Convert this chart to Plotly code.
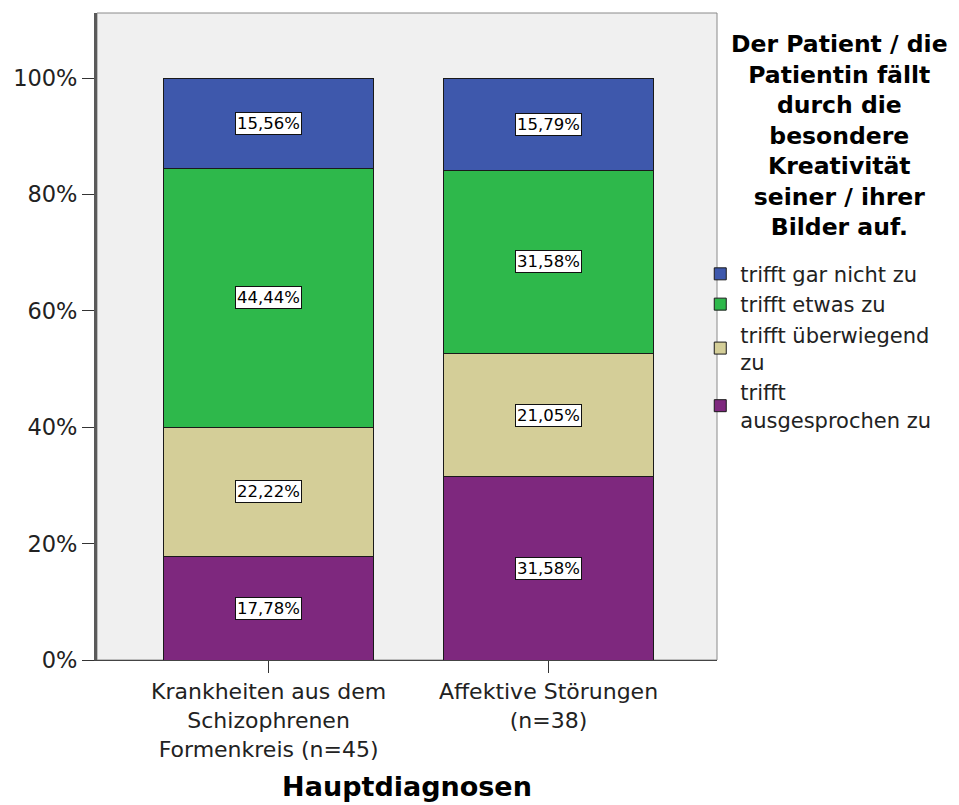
import plotly.graph_objects as go

categories = ["Krankheiten aus dem<br>Schizophrenen<br>Formenkreis (n=45)",
              "Affektive Störungen<br>(n=38)"]
series_names = ["trifft<br>ausgesprochen zu", "trifft überwiegend<br>zu",
                "trifft etwas zu", "trifft gar nicht zu"]
purple_vals = [17.78, 31.58]
tan_vals = [22.22, 21.05]
green_vals = [44.44, 31.58]
blue_vals = [15.56, 15.79]
y_ticks = [0, 20, 40, 60, 80, 100]
y_ticktext = ["0%", "20%", "40%", "60%", "80%", "100%"]
legend_title = "Der Patient / die<br>Patientin fällt<br>durch die<br>besondere<br>Kreativität<br>seiner / ihrer<br>Bilder auf."
x_title = "Hauptdiagnosen"

colors = ["#7E287E", "#D4CE98", "#2EB84B", "#3E58AC"]
FONT = "DejaVu Sans"

series_vals = [purple_vals, tan_vals, green_vals, blue_vals]

fig = go.Figure()
xs = [0, 1]
for name, vals, col in zip(series_names, series_vals, colors):
    fig.add_trace(go.Bar(x=xs, y=vals, name=name, width=0.753,
                         marker=dict(color=col, line=dict(color="#1a1a1a", width=1))))

annotations = []
for i in xs:
    base = 0
    for vals in series_vals:
        v = vals[i]
        annotations.append(dict(x=i, y=base + v / 2, xref="x", yref="y",
                                text=f"{v:.2f}%".replace(".", ","), showarrow=False,
                                font=dict(family=FONT, size=16.5, color="black"),
                                bgcolor="white", bordercolor="#111111", borderwidth=1,
                                borderpad=1))
        base += v

# legend title as a centred text block
annotations.append(dict(text=f"<b>{legend_title}</b>", xref="paper", yref="paper",
                        x=1.197, y=0.81, xanchor="center", yanchor="middle",
                        align="center", showarrow=False,
                        font=dict(family=FONT, size=23.5, color="black")))

fig.update_layout(
    barmode="stack",
    width=959, height=805,
    margin=dict(l=81, r=250, t=5, b=153),
    paper_bgcolor="white",
    plot_bgcolor="#F0F0F0",
    font=dict(family=FONT, color="#222222"),
    annotations=annotations,
    legend=dict(
        traceorder="reversed",
        x=0.973, xanchor="left", y=0.628, yanchor="top",
        bgcolor="rgba(0,0,0,0)",
        font=dict(family=FONT, size=21, color="#222222"),
        tracegroupgap=0,
        borderwidth=0,
    ),
    xaxis=dict(
        tickmode="array", tickvals=xs, ticktext=categories,
        range=[-0.613, 1.602],
        ticks="outside", ticklen=12, tickcolor="#333333", tickwidth=1,
        tickfont=dict(family=FONT, size=22, color="#222222"),
        showline=True, linecolor="#444444", linewidth=1,
        mirror=False, showgrid=False, zeroline=False,
        title=dict(text=f"<b>{x_title}</b>", standoff=16,
                   font=dict(family=FONT, size=27, color="black")),
    ),
    yaxis=dict(
        range=[0, 111.2],
        tickmode="array", tickvals=y_ticks, ticktext=y_ticktext,
        ticks="outside", ticklen=12, tickcolor="#333333", tickwidth=1,
        tickfont=dict(family=FONT, size=22.5, color="#222222"),
        showline=True, linecolor="#5a5a5a", linewidth=3,
        showgrid=False, zeroline=False,
    ),
    shapes=[dict(type="rect", xref="paper", yref="paper", x0=0, y0=0, x1=1, y1=1,
                 line=dict(color="#8a8a8a", width=1), layer="below")],
)

fig.write_html("out.html")
